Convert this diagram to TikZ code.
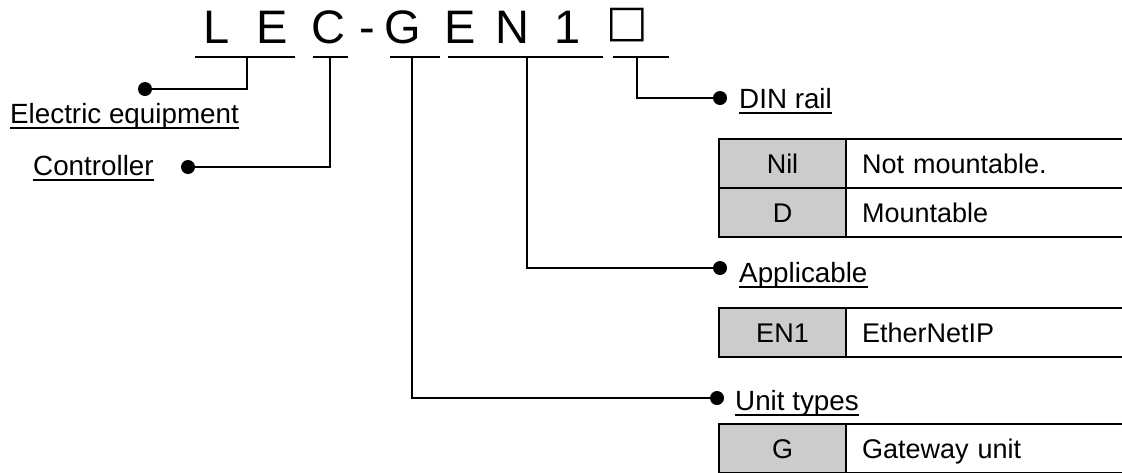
\documentclass[tikz,border=0pt]{standalone}
\usepackage{fontspec}
\setmainfont{Liberation Sans}
\newfontfamily\symfont{DejaVu Sans}
\usetikzlibrary{positioning}

\tikzset{
  wire/.style={line width=1.5pt},
  uline/.style={line width=1.6pt},
  dot/.style={circle, fill, inner sep=0pt, minimum size=14pt},
  tag/.style={inner sep=0pt, anchor=base west, font=\fontsize{27.8}{30}\selectfont},
  code/.style={inner sep=0pt, anchor=base, font=\fontsize{47}{47}\selectfont},
  keycell/.style={draw, line width=2pt, fill=gray!40, outer sep=0pt, inner sep=0pt,
    minimum width=127pt, minimum height=49pt, text height=19.3pt, text depth=0pt,
    font=\fontsize{27}{30}\selectfont},
  valcell/.style={draw, line width=2pt, outer sep=0pt, inner xsep=16pt, inner ysep=0pt,
    text width=246pt, align=left, minimum height=49pt, text height=19.3pt, text depth=0pt,
    font=\fontsize{27}{30}\selectfont}
}

\begin{document}
\begin{tikzpicture}[x=1pt,y=-1pt]
  \useasboundingbox (0,0) rectangle (1122,472);

  % model code
  \node[code] (cL) at (217,43) {L};
  \node[code] (cE) at (272,43) {E};
  \node[code] (cC) at (328,43) {C};
  \node[code] (cdash) at (367,43) {-};
  \node[code] (cG) at (403,43) {G};
  \node[code] (cE2) at (460,43) {E};
  \node[code] (cN) at (512,43) {N};
  \node[code] (c1) at (568,43) {1};
  \node[code, font=\symfont\fontsize{44}{44}\selectfont] (cbox) at (627,36) {□};

  \draw[uline] (195,57) -- (295,57);
  \draw[uline] (313,57) -- (348,57);
  \draw[uline] (390,57) -- (440,57);
  \draw[uline] (448,57) -- (603,57);
  \draw[uline] (613,57) -- (669,57);

  \coordinate (sLE) at (247,57);
  \coordinate (sC) at (330,57);
  \coordinate (sG) at (412,57);
  \coordinate (sEN) at (527,57);
  \coordinate (sbox) at (637,57);

  % dots
  \node[dot] (delec) at (145,89) {};
  \node[dot] (dctrl) at (188,167) {};
  \node[dot] (ddin) at (720,98) {};
  \node[dot] (dappl) at (720,268) {};
  \node[dot] (dunit) at (717,398) {};

  \draw[wire] (sLE) |- (delec);
  \draw[wire] (sC) |- (dctrl);
  \draw[wire] (sbox) |- (ddin);
  \draw[wire] (sEN) |- (dappl);
  \draw[wire] (sG) |- (dunit);

  % labels
  \node[tag] (elec) at (10,123) {Electric equipment};
  \node[tag] (ctrl) at (33,175) {Controller};
  \node[tag] (din) at (739,108) {DIN rail};
  \node[tag] (appl) at (739,282) {Applicable\ };
  \node[tag] (unit) at (735,410) {Unit types};
  \foreach \n in {elec,ctrl,din,appl,unit}
    \draw[uline] ([yshift=-5pt]\n.base west) -- ([yshift=-5pt]\n.base east);

  % tables
  \node[keycell] (nil) at (782.5,163.5) {Nil};
  \node[valcell, right=0pt of nil] (nilv) {Not mountable.};
  \node[keycell, below=0pt of nil] (d) {D};
  \node[valcell, right=0pt of d] (dv) {Mountable};

  \node[keycell] (en1) at (782.5,332.5) {EN1};
  \node[valcell, right=0pt of en1] (en1v) {EtherNetIP};

  \node[keycell] (g) at (782.5,448.5) {G};
  \node[valcell, right=0pt of g] (gv) {Gateway unit};
\end{tikzpicture}
\end{document}
